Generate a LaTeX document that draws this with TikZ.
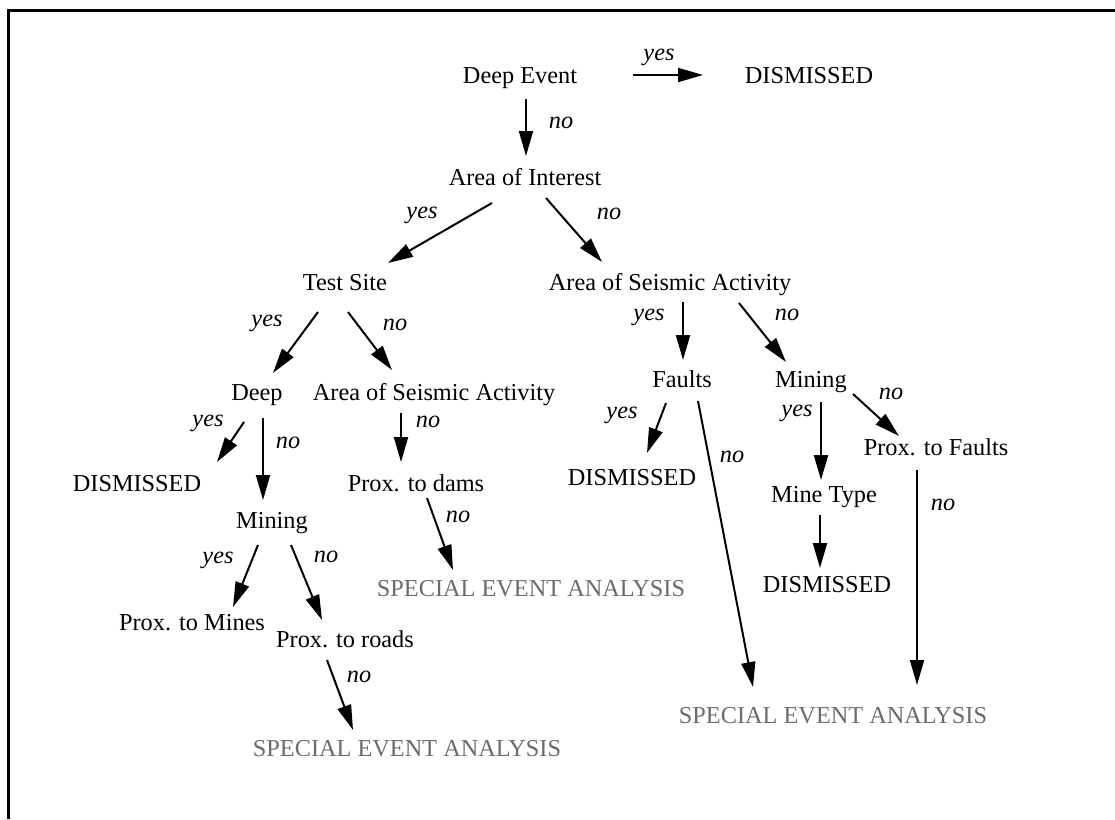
\documentclass[tikz,border=0pt]{standalone}
\usepackage{fontspec}
\setmainfont{Liberation Serif}
\usetikzlibrary{arrows.meta}
\definecolor{seagray}{gray}{0.42}
\tikzset{
  txt/.style={inner sep=0pt, text height=16pt, text depth=0pt, anchor=center,
    font=\fontsize{24.3}{28}\selectfont},
  sea/.style={txt, text=seagray},
  lbl/.style={inner sep=0pt, text height=11pt, text depth=0pt, anchor=center,
    font=\fontsize{24.3}{28}\selectfont\itshape},
  arr/.style={line width=2pt, -{Triangle[length=25pt,width=14pt]}},
}
\begin{document}
\begin{tikzpicture}[x=1pt,y=-1pt]
\useasboundingbox (0,0) rectangle (1115,819);
\draw[line width=3.5pt] (8.5,819) -- (8.5,10.5) -- (1115,10.5);
% nodes
\node[txt] (de) at (520,75) {Deep Event};
\node[txt] (dis0) at (809,75) {DISMISSED};
\node[txt] (aoi) at (525,177) {Area of Interest};
\node[txt] (ts) at (345,282) {Test Site};
\node[txt] (asa1) at (670,282) {Area of Seismic Activity};
\node[txt] (deep) at (257,392) {Deep};
\node[txt] (asa2) at (434,392) {Area of Seismic Activity};
\node[txt] (dis1) at (137,483) {DISMISSED};
\node[txt] (dams) at (416,483) {Prox. to dams};
\node[txt] (min1) at (272,520) {Mining};
\node[sea] (sea1) at (531,588) {SPECIAL EVENT ANALYSIS};
\node[txt] (mines) at (192,622) {Prox. to Mines};
\node[txt] (roads) at (345,639) {Prox. to roads};
\node[sea] (sea2) at (407,748) {SPECIAL EVENT ANALYSIS};
\node[txt] (faults) at (682,379) {Faults};
\node[txt] (min2) at (811,379) {Mining};
\node[txt] (dis2) at (632,477) {DISMISSED};
\node[txt] (pfaults) at (936,447) {Prox. to Faults};
\node[txt] (mtype) at (824,494) {Mine Type};
\node[txt] (dis3) at (827,584) {DISMISSED};
\node[sea] (sea3) at (833,715) {SPECIAL EVENT ANALYSIS};
% labels
\node[lbl] (l1) at (659,55) {yes};
\node[lbl] (l2) at (561,123) {no};
\node[lbl] (l3) at (422,213) {yes};
\node[lbl] (l4) at (609,214) {no};
\node[lbl] (l5) at (267,321) {yes};
\node[lbl] (l6) at (395,325) {no};
\node[lbl] (l7) at (208,421) {yes};
\node[lbl] (l8) at (288,443) {no};
\node[lbl] (l9) at (428,422) {no};
\node[lbl] (l10) at (458,517) {no};
\node[lbl] (l11) at (218,558) {yes};
\node[lbl] (l12) at (326,557) {no};
\node[lbl] (l13) at (359,677) {no};
\node[lbl] (l14) at (649,315) {yes};
\node[lbl] (l15) at (787,315) {no};
\node[lbl] (l16) at (622,413) {yes};
\node[lbl] (l17) at (732,457) {no};
\node[lbl] (l18) at (797,411) {yes};
\node[lbl] (l19) at (891,394) {no};
\node[lbl] (l20) at (943,505) {no};
% connectors
\draw[arr] ([shift={(113,0)}]de.center) -- ([shift={(-106,0)}]dis0.center);
\draw[arr] ([shift={(6,24)}]de.center) -- ([shift={(1,-21)}]aoi.center);
\draw[arr] ([shift={(-33,26)}]aoi.center) -- ([shift={(43,-19)}]ts.center);
\draw[arr] ([shift={(21,21)}]aoi.center) -- ([shift={(-68,-20)}]asa1.center);
\draw[arr] ([shift={(-27,30)}]ts.center) -- ([shift={(16,-19)}]deep.center);
\draw[arr] ([shift={(3,30)}]ts.center) -- ([shift={(-42,-22)}]asa2.center);
\draw[arr] ([shift={(-13,30)}]deep.center) -- ([shift={(80,-21)}]dis1.center);
\draw[arr] ([shift={(6,26)}]deep.center) -- ([shift={(-9,-20)}]min1.center);
\draw[arr] ([shift={(-33,21)}]asa2.center) -- ([shift={(-15,-21)}]dams.center);
\draw[arr] ([shift={(11,15)}]dams.center) -- ([shift={(-78,-18)}]sea1.center);
\draw[arr] ([shift={(-14,25)}]min1.center) -- ([shift={(41,-15)}]mines.center);
\draw[arr] ([shift={(19,25)}]min1.center) -- ([shift={(-23,-19)}]roads.center);
\draw[arr] ([shift={(-18,21)}]roads.center) -- ([shift={(-54,-18)}]sea2.center);
\draw[arr] ([shift={(13,20)}]asa1.center) -- ([shift={(1,-19)}]faults.center);
\draw[arr] ([shift={(69,21)}]asa1.center) -- ([shift={(-25,-17)}]min2.center);
\draw[arr] ([shift={(-16,24)}]faults.center) -- ([shift={(15,-24)}]dis2.center);
\draw[arr] ([shift={(16,22)}]faults.center) -- ([shift={(-80,-28)}]sea3.center);
\draw[arr] ([shift={(10,23)}]min2.center) -- ([shift={(-3,-14)}]mtype.center);
\draw[arr] ([shift={(42,15)}]min2.center) -- ([shift={(-37,-11)}]pfaults.center);
\draw[arr] ([shift={(-4,21)}]mtype.center) -- ([shift={(-7,-16)}]dis3.center);
\draw[arr] ([shift={(-19,23)}]pfaults.center) -- ([shift={(84,-30)}]sea3.center);
\end{tikzpicture}
\end{document}
